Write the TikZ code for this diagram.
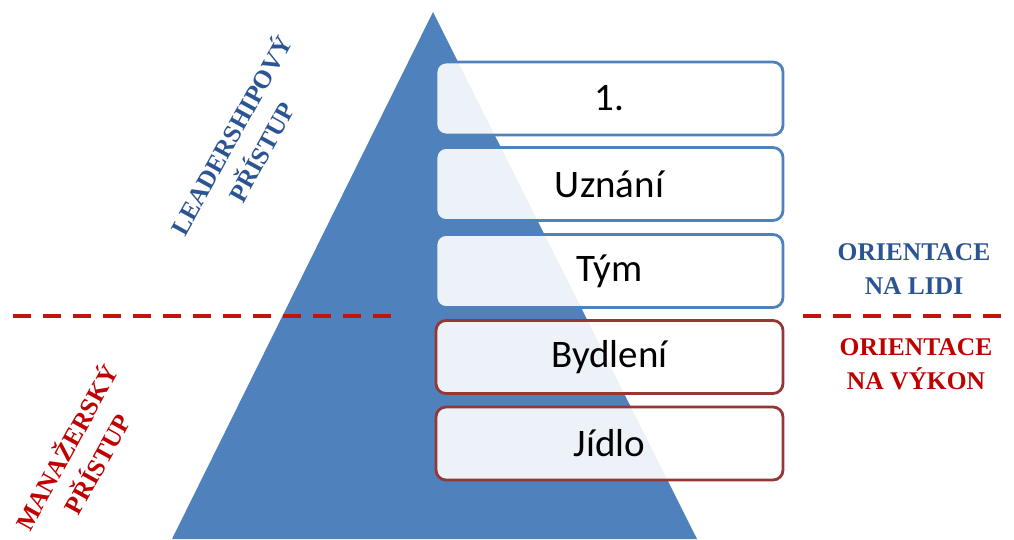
\documentclass[tikz,border=0pt]{standalone}
\usepackage{fontspec}
\setmainfont{Liberation Serif}
\newfontfamily\boxfont{Carlito}
\definecolor{triblue}{HTML}{4F81BD}
\definecolor{boxred}{HTML}{953735}
\definecolor{dashred}{HTML}{C0140C}
\definecolor{lblue}{HTML}{2B5592}
\definecolor{lred}{HTML}{C00000}
\tikzset{
  stepbox/.style={draw, line width=2.8pt, rounded corners=10pt, fill=white, fill opacity=0.9, text opacity=1,
    minimum width=347pt, minimum height=73pt, inner sep=0pt, font=\boxfont\fontsize{39}{44}\selectfont},
  bluebox/.style={stepbox, draw=triblue},
  redbox/.style={stepbox, draw=boxred},
  dashline/.style={draw=dashred, line width=3.6pt, dash pattern=on 18pt off 12pt},
  sidelabel/.style={align=center, font=\bfseries\fontsize{25.5}{35}\selectfont, rotate=61, inner sep=0pt},
  rightlabel/.style={align=center, font=\bfseries\fontsize{25.5}{34}\selectfont, inner sep=0pt}
}
\begin{document}
\begin{tikzpicture}[x=1pt,y=-1pt]
\useasboundingbox (0,0) rectangle (1014,539);
\fill[triblue] (433,12) -- (697,539) -- (172,539) -- cycle;
\node[bluebox] (b1) at (609.5,98.5) {1.};
\node[bluebox] (b2) at (609.5,184) {Uznání};
\node[bluebox] (b3) at (609.5,271) {Tým};
\node[redbox] (b4) at (609.5,357) {Bydlení};
\node[redbox] (b5) at (609.5,443.5) {Jídlo};
\draw[dashline] (13,316) -- (398,316);
\draw[dashline] (803,316) -- (1012,316);
\node[sidelabel, text=lblue] (lead) at (245,143) {LEADERSHIPOVÝ\\PŘÍSTUP};
\node[sidelabel, text=lred] (man) at (80.5,455) {MANAŽERSKÝ\\PŘÍSTUP};
\node[rightlabel, text=lblue] (lidi) at (914,269.5) {ORIENTACE\\NA LIDI};
\node[rightlabel, text=lred] (vykon) at (916,364) {ORIENTACE\\NA VÝKON};
\end{tikzpicture}
\end{document}
